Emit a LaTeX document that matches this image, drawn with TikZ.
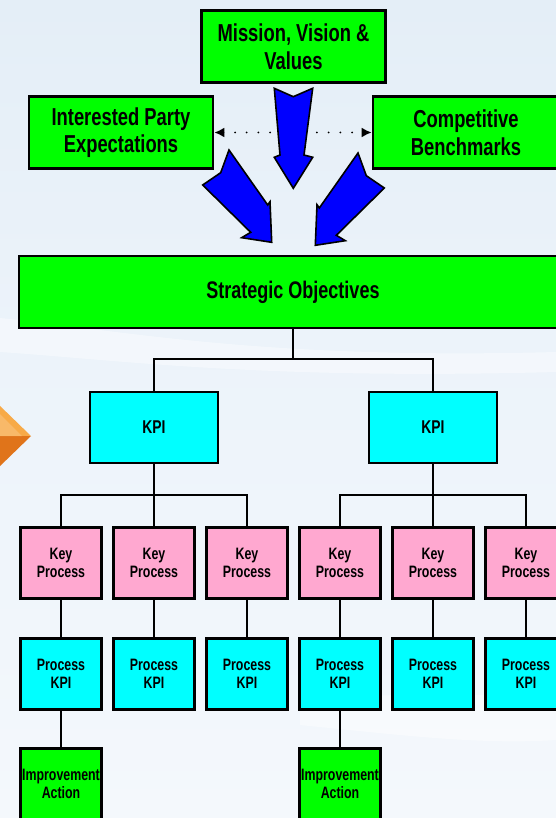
\documentclass[tikz,border=0pt]{standalone}
\usepackage{fontspec}
\newfontfamily\cond{Liberation Sans}[FakeStretch=0.75]
\usetikzlibrary{arrows.meta}
\definecolor{boxgreen}{RGB}{0,255,0}
\definecolor{boxcyan}{RGB}{0,255,255}
\definecolor{kppink}{RGB}{255,168,208}
\definecolor{bgtop}{RGB}{228,238,247}
\definecolor{bgmid}{RGB}{236,243,250}
\definecolor{bgbot}{RGB}{244,248,252}
\definecolor{orlight}{RGB}{247,170,72}
\definecolor{ordark}{RGB}{224,116,26}
\definecolor{arrowblue}{RGB}{0,0,255}
\begin{document}
\begin{tikzpicture}[x=1pt,y=-1pt,
  box/.style={draw=black,line width=2.6pt,inner sep=0pt,align=center},
  gbox/.style={box,fill=boxgreen},
  cbox/.style={box,fill=boxcyan},
  pbox/.style={box,fill=kppink},
  bigtxt/.style={font=\cond\bfseries\fontsize{24.5}{27.5}\selectfont},
  midtxt/.style={font=\cond\bfseries\fontsize{24}{27}\selectfont},
  kpitxt/.style={font=\cond\bfseries\fontsize{18.5}{21}\selectfont},
  smalltxt/.style={font=\cond\bfseries\fontsize{16.5}{18.5}\selectfont},
  topsize/.style={minimum width=184pt,minimum height=72pt},
  kpisize/.style={minimum width=128pt,minimum height=71pt},
  leafsize/.style={minimum width=81pt,minimum height=71pt},
  conn/.style={draw=black,line width=2.5pt},
  barrow/.style={fill=arrowblue,draw=black,line width=1.6pt,line join=miter},
  dotline/.style={draw=black,line width=2pt,line cap=round,dash pattern=on 0pt off 11.7pt,
     {Latex[length=10pt,width=10pt]}-{Latex[length=10pt,width=10pt]}}
]
% background
\shade[top color=bgtop,bottom color=bgmid] (0,0) rectangle (556,340);
\shade[top color=bgmid,bottom color=bgbot] (0,340) rectangle (556,818);
\useasboundingbox (0,0) rectangle (556,818);
\clip (0,0) rectangle (556,818);
\fill[white,opacity=0.4] (0,318) .. controls (120,330) and (260,360) .. (556,352)
  -- (556,372) .. controls (260,380) and (120,360) .. (0,352) -- cycle;
\fill[white,opacity=0.45] (300,700) .. controls (400,690) and (480,700) .. (556,690)
  -- (556,740) .. controls (480,745) and (400,735) .. (300,725) -- cycle;

% orange diamond at the left edge
\fill[orlight] (-2,404) -- (31,436) -- (-2,436) -- cycle;
\fill[ordark] (-2,436) -- (31,436) -- (-2,468) -- cycle;
\fill[orlight!70!white,opacity=0.6] (-2,412) -- (22,436) -- (-2,436) -- cycle;

% top boxes
\node[gbox,topsize,bigtxt] (mvv) at (293.5,46.5) {Mission, Vision \&\\Values};
\node[gbox,topsize,bigtxt] (ipe) at (121,132.5) {Interested Party\\Expectations};
\node[gbox,topsize,bigtxt,minimum width=186pt] (cbm) at (466,132.5) {Competitive\\Benchmarks};

% dotted double arrow
\draw[dotline] (ipe.east) -- (cbm.west);

% blue block arrows
\draw[barrow] (274.3,88.3) -- (293.3,96.7) -- (312.7,88.3) -- (304,155) -- (312.7,157.3)
  -- (293.3,188.3) -- (274.3,157.3) -- (280,155) -- cycle;
\draw[barrow] (229,150) -- (267.7,205) -- (270,201.7) -- (271.7,242.3) -- (241.7,237.7)
  -- (250.7,232.3) -- (202.7,185) -- (220.7,172.7) -- cycle;
\draw[barrow] (358,153) -- (366.3,175.7) -- (384.3,188) -- (336.3,235.3) -- (345.3,240.7)
  -- (315.3,245.3) -- (317,204.7) -- (319.3,208) -- cycle;

% strategic objectives
\node[gbox,minimum width=548pt,minimum height=72pt,midtxt] (so) at (293,292) {\raisebox{-2pt}{Strategic Objectives}};

% KPI level
\node[cbox,kpisize,kpitxt] (kpiA) at (154,427.5) {KPI};
\node[cbox,kpisize,kpitxt] (kpiB) at (433,427.5) {KPI};
\coordinate (j0) at (293,359);
\draw[conn] (so.south) -- (j0);
\draw[conn] (kpiA.north) |- (j0) -| (kpiB.north);

% key processes
\foreach \i/\x in {1/61,2/154,3/247,4/340,5/433,6/526}{
  \node[pbox,leafsize,smalltxt] (kp\i) at (\x,563) {Key\\Process};
  \node[cbox,leafsize,smalltxt] (pk\i) at (\x,674) {Process\\KPI};
  \draw[conn] (kp\i.south) -- (pk\i.north);
}
\coordinate (j1) at (154,495);
\coordinate (j2) at (433,495);
\draw[conn] (kpiA.south) -- (kp2.north);
\draw[conn] (kp1.north) |- (j1) -| (kp3.north);
\draw[conn] (kpiB.south) -- (kp5.north);
\draw[conn] (kp4.north) |- (j2) -| (kp6.north);

% improvement actions
\node[gbox,leafsize,smalltxt] (ia1) at (61,784) {Improvement\\Action};
\node[gbox,leafsize,smalltxt] (ia2) at (340,784) {Improvement\\Action};
\draw[conn] (pk1.south) -- (ia1.north);
\draw[conn] (pk4.south) -- (ia2.north);
\end{tikzpicture}
\end{document}
